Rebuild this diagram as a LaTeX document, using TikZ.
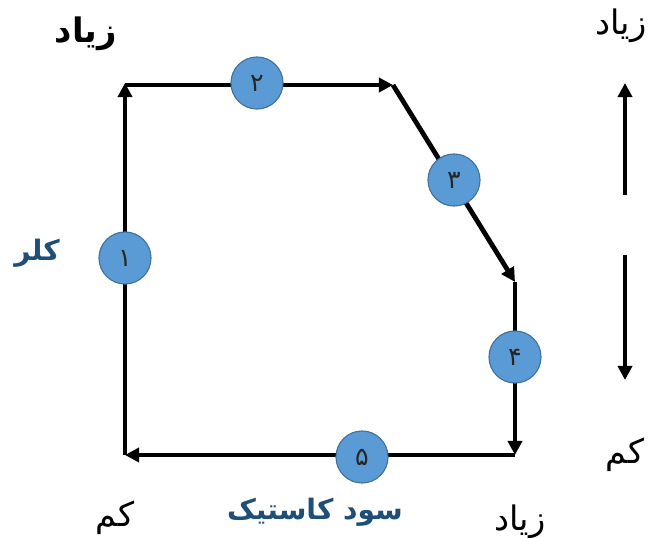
\documentclass[tikz,border=0pt]{standalone}
\usepackage{fontspec}
\usepackage{tikz}
\usetikzlibrary{arrows.meta}
\TeXXeTstate=1
\newfontfamily\farsi[Script=Arabic]{DejaVu Sans}
\definecolor{ballfill}{HTML}{5B9BD5}
\definecolor{balledge}{HTML}{41719C}
\definecolor{axisblue}{HTML}{1F4E79}
\tikzset{
  every picture/.style={line join=miter, line cap=butt, >={Triangle[length=10pt,width=10pt]}},
  flow/.style={line width=3.4pt,->},
  ball/.style={circle, fill=ballfill, draw=balledge, line width=0.8pt, minimum size=37pt, inner sep=0pt, font=\farsi\fontsize{18}{20}\selectfont, text=black!85},
  word/.style={font=\farsi\fontsize{24}{26}\selectfont},
  boldword/.style={font=\farsi\bfseries\fontsize{20}{22}\selectfont},
}

\begin{document}
\begin{tikzpicture}[x=0.025cm,y=-0.025cm]
\useasboundingbox (0,0) rectangle (652,538);
% corners of the path
\coordinate (lowleft) at (125,455);
\coordinate (topleft) at (125,83);
\coordinate (topright) at (393,85);
\coordinate (kink) at (515,282);
\coordinate (lowright) at (515,455);
\draw[flow] (lowleft) -- (topleft);
\draw[flow] (125,85) -- (topright);
\draw[flow] (topright) -- (kink);
\draw[flow] (kink) -- (lowright);
\draw[flow] (lowright) -- (lowleft);
% numbered steps
\node[ball] (s1) at (125,258) {\beginR ۱\endR};
\node[ball] (s2) at (257,83) {\beginR ۲\endR};
\node[ball] (s3) at (454,180) {\beginR ۳\endR};
\node[ball] (s4) at (515,357) {\beginR ۴\endR};
\node[ball] (s5) at (362,457) {\beginR ۵\endR};
% axis labels
\node[boldword,font=\farsi\bfseries\fontsize{24}{26}\selectfont] (hitop) at (86,34) {\beginR زیاد\endR};
\node[boldword,text=axisblue] (chlor) at (37,253) {\beginR کلر\endR};
\node[boldword,text=axisblue] (soda) at (315,512) {\beginR سود کاستیک\endR};
\node[word] (lobottom) at (115,518) {\beginR کم\endR};
\node[word] (hibottom) at (520,522) {\beginR زیاد\endR};
% scale on the right
\node[word] (hiright) at (621,26) {\beginR زیاد\endR};
\node[word] (loright) at (625,455) {\beginR کم\endR};
\coordinate (uptop) at (625,83);
\coordinate (upfoot) at (625,195);
\coordinate (downtop) at (625,255);
\coordinate (downfoot) at (625,380);
\draw[flow] (upfoot) -- (uptop);
\draw[flow] (downtop) -- (downfoot);
\end{tikzpicture}
\end{document}
